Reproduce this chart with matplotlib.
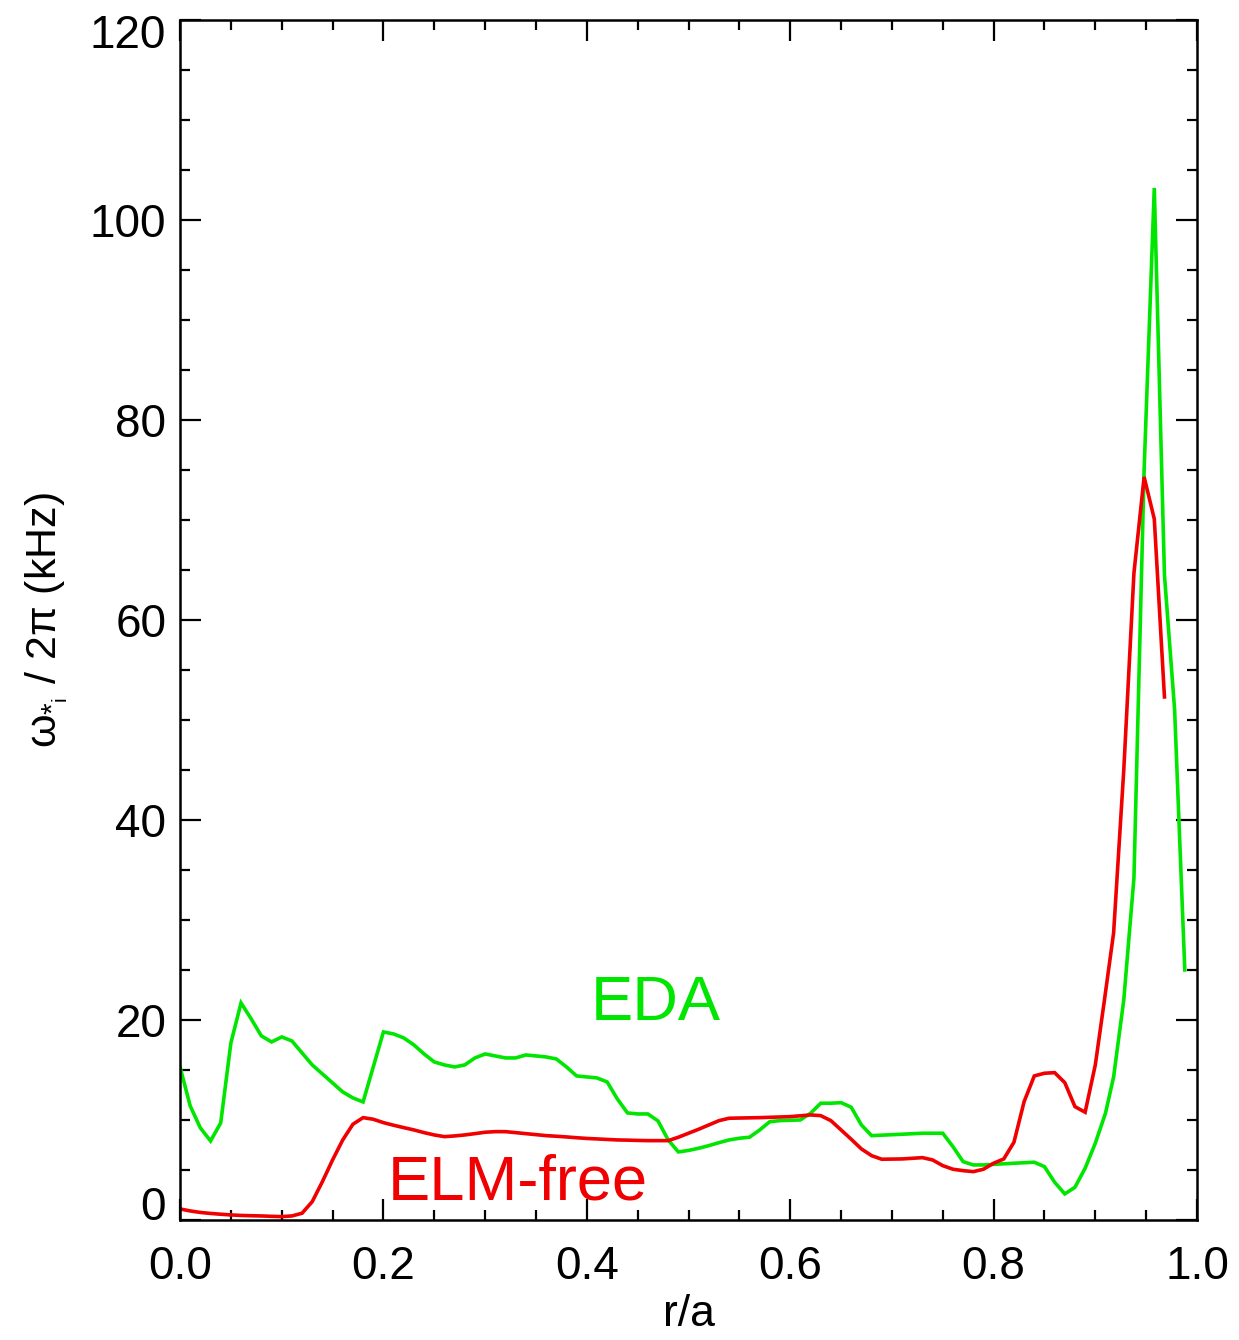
import matplotlib
matplotlib.use("Agg")
import matplotlib.pyplot as plt
from matplotlib.ticker import MultipleLocator, FormatStrFormatter
from matplotlib.transforms import ScaledTranslation

plt.rcParams['font.family'] = ['Liberation Sans', 'DejaVu Sans']
plt.rcParams['mathtext.fontset'] = 'custom'
plt.rcParams['mathtext.rm'] = 'Liberation Sans'
plt.rcParams['mathtext.it'] = 'Liberation Sans:italic'
plt.rcParams['mathtext.bf'] = 'Liberation Sans:bold'

# EDA profile
r_eda = [0.00, 0.01, 0.02, 0.03, 0.04, 0.05, 0.06, 0.07, 0.08, 0.09,
         0.10, 0.11, 0.12, 0.13, 0.14, 0.15, 0.16, 0.17, 0.18, 0.20,
         0.21, 0.22, 0.23, 0.24, 0.25, 0.26, 0.27, 0.28, 0.29, 0.30,
         0.31, 0.32, 0.33, 0.34, 0.35, 0.36, 0.37, 0.38, 0.39, 0.40,
         0.41, 0.42, 0.43, 0.44, 0.45, 0.46, 0.47, 0.48, 0.49, 0.50,
         0.51, 0.52, 0.53, 0.54, 0.55, 0.56, 0.57, 0.58, 0.59, 0.61,
         0.62, 0.63, 0.64, 0.65, 0.66, 0.67, 0.68, 0.71, 0.73, 0.75,
         0.76, 0.77, 0.78, 0.79, 0.82, 0.84, 0.85, 0.86, 0.87, 0.88,
         0.89, 0.90, 0.91, 0.918, 0.928, 0.938, 0.948, 0.958, 0.968, 0.978,
         0.988]
w_eda = [15.3, 11.4, 9.2, 7.9, 9.7, 17.7, 21.7, 20.1, 18.4, 17.8,
         18.3, 17.9, 16.7, 15.5, 14.6, 13.7, 12.8, 12.2, 11.8, 18.8,
         18.6, 18.2, 17.5, 16.6, 15.8, 15.5, 15.3, 15.5, 16.2, 16.6,
         16.4, 16.2, 16.2, 16.5, 16.4, 16.3, 16.1, 15.3, 14.4, 14.3,
         14.2, 13.8, 12.1, 10.7, 10.6, 10.6, 9.9, 8.0, 6.8, 6.95,
         7.17, 7.43, 7.73, 8.0, 8.17, 8.27, 9.0, 9.83, 9.93, 10.0,
         10.67, 11.67, 11.67, 11.73, 11.27, 9.5, 8.43, 8.57, 8.67, 8.67,
         7.33, 5.83, 5.5, 5.5, 5.67, 5.77, 5.33, 3.77, 2.6, 3.27,
         5.17, 7.67, 10.67, 14.3, 22.0, 34.2, 75.0, 103.2, 64.5, 51.0,
         25.0]

# ELM-free profile
r_elm = [0.00, 0.01, 0.02, 0.03, 0.04, 0.05, 0.06, 0.07, 0.08, 0.09,
         0.10, 0.11, 0.12, 0.13, 0.14, 0.15, 0.16, 0.17, 0.18, 0.19,
         0.20, 0.21, 0.22, 0.23, 0.24, 0.25, 0.26, 0.27, 0.28, 0.29,
         0.30, 0.31, 0.32, 0.33, 0.34, 0.35, 0.36, 0.37, 0.38, 0.39,
         0.40, 0.41, 0.42, 0.43, 0.44, 0.45, 0.46, 0.47, 0.48, 0.49,
         0.50, 0.51, 0.52, 0.53, 0.54, 0.57, 0.60, 0.62, 0.63, 0.64,
         0.65, 0.66, 0.67, 0.68, 0.69, 0.71, 0.73, 0.74, 0.75, 0.76,
         0.77, 0.78, 0.79, 0.80, 0.81, 0.82, 0.83, 0.84, 0.85, 0.86,
         0.87, 0.88, 0.89, 0.90, 0.909, 0.918, 0.928, 0.938, 0.948, 0.958,
         0.968]
w_elm = [1.1, 0.9, 0.75, 0.65, 0.57, 0.5, 0.45, 0.42, 0.4, 0.36,
         0.33, 0.4, 0.67, 1.83, 3.83, 6.0, 8.0, 9.57, 10.23, 10.07,
         9.73, 9.47, 9.23, 9.0, 8.73, 8.5, 8.33, 8.4, 8.5, 8.63,
         8.77, 8.83, 8.83, 8.73, 8.63, 8.53, 8.43, 8.37, 8.3, 8.22,
         8.15, 8.1, 8.05, 8.0, 7.98, 7.95, 7.93, 7.93, 7.93, 8.27,
         8.67, 9.07, 9.5, 9.93, 10.17, 10.23, 10.33, 10.5, 10.43, 9.93,
         9.0, 8.07, 7.1, 6.43, 6.07, 6.1, 6.23, 6.0, 5.43, 5.07,
         4.93, 4.83, 5.07, 5.67, 6.1, 7.77, 11.83, 14.4, 14.67, 14.73,
         13.73, 11.33, 10.77, 15.5, 22.0, 28.7, 45.0, 64.7, 74.3, 70.1,
         52.3]

x_ticks = [0.0, 0.2, 0.4, 0.6, 0.8, 1.0]
y_ticks = [0, 20, 40, 60, 80, 100, 120]

GREEN = '#00E600'
RED = '#F00000'

fig = plt.figure(figsize=(12.39, 13.40), dpi=100)
ax = fig.add_axes([0.1453, 0.0896, 0.8208, 0.8955])

ax.plot(r_eda, w_eda, color=GREEN, lw=2.6, solid_joinstyle='miter')
ax.plot(r_elm, w_elm, color=RED, lw=2.6, solid_joinstyle='miter')

ax.text(0.404, 20.0, 'EDA', color=GREEN, fontsize=45.5, ha='left', va='baseline')
ax.text(0.204, 2.0, 'ELM-free', color=RED, fontsize=45.5, ha='left', va='baseline')

ax.set_xlim(x_ticks[0], x_ticks[-1])
ax.set_ylim(y_ticks[0], y_ticks[-1])
ax.set_xticks(x_ticks)
ax.set_yticks(y_ticks)
ax.xaxis.set_minor_locator(MultipleLocator(0.05))
ax.yaxis.set_minor_locator(MultipleLocator(5))
ax.xaxis.set_major_formatter(FormatStrFormatter('%.1f'))
ax.yaxis.set_major_formatter(FormatStrFormatter('%d'))

ax.tick_params(which='both', direction='in', top=True, right=True,
               width=1.6, colors='black')
ax.tick_params(which='major', length=15, labelsize=33)
ax.tick_params(axis='x', which='major', pad=18)
ax.tick_params(axis='y', which='major', pad=10)
ax.tick_params(which='minor', length=7.5)
for s in ax.spines.values():
    s.set_linewidth(1.8)

# keep the end labels of the y axis inside the axis range
yticks = ax.yaxis.get_major_ticks()
for tick, dy in ((yticks[0], 16.5), (yticks[-1], -11.5)):
    lab = tick.label1
    lab.set_transform(lab.get_transform() +
                      ScaledTranslation(0, dy / 100.0, fig.dpi_scale_trans))

ax.set_xlabel('r/a', fontsize=32, labelpad=4)
ax.set_ylabel('ω$_{*_\\mathrm{i}}$ / 2π (kHz)', fontsize=31, labelpad=14)

fig.savefig('out.png', dpi=100)
